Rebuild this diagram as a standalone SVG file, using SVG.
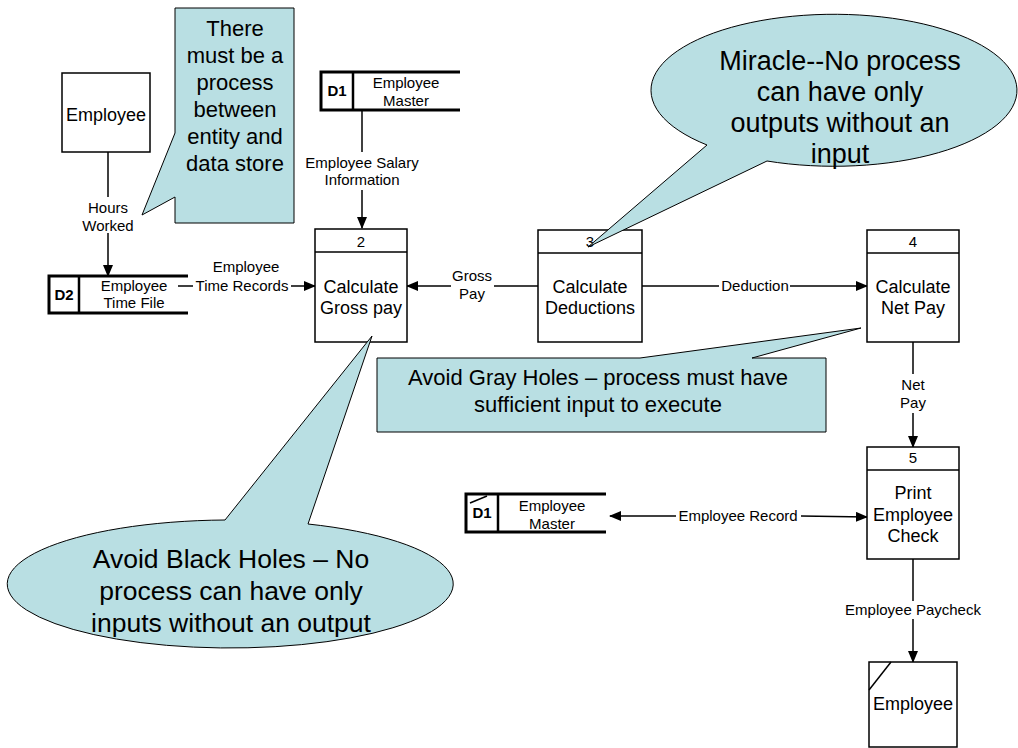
<svg xmlns="http://www.w3.org/2000/svg" width="1018" height="748" viewBox="0 0 1018 748">
<style>
text{font-family:"Liberation Sans",Arial,sans-serif;fill:#000;text-anchor:middle}
.lbl{font-size:15px}
.proc{font-size:18px}
.num{font-size:15px}
.box{fill:#fff;stroke:#000;stroke-width:1.5}
.store{fill:none;stroke:#000;stroke-width:3}
.div{fill:none;stroke:#000;stroke-width:2.5}
.flow{fill:none;stroke:#000;stroke-width:1.5}
.call{fill:#b9dfe3;stroke:#000;stroke-width:1}
.ct{font-size:22px}
.cb{font-size:27px}
.bold{font-weight:bold}
</style>
<defs>
<marker id="arr" markerUnits="userSpaceOnUse" markerWidth="12" markerHeight="10" refX="11" refY="5" orient="auto-start-reverse" viewBox="0 0 12 10">
<path d="M0,0 L12,5 L0,10 z" fill="#000"/>
</marker>
</defs>

<g id="connectors">
<line class="flow" x1="108" y1="152" x2="108" y2="197"/>
<line class="flow" x1="108" y1="233" x2="108" y2="276" marker-end="url(#arr)"/>
<text class="lbl" x="108" y="213">Hours</text>
<text class="lbl" x="108" y="231">Worked</text>

<line class="flow" x1="362" y1="110" x2="362" y2="152"/>
<line class="flow" x1="362" y1="190" x2="362" y2="228" marker-end="url(#arr)"/>
<text class="lbl" x="362" y="168">Employee Salary</text>
<text class="lbl" x="362" y="185">Information</text>

<line class="flow" x1="178" y1="286" x2="193" y2="286"/>
<line class="flow" x1="291" y1="286" x2="315" y2="286" marker-end="url(#arr)"/>
<text class="lbl" x="246" y="272">Employee</text>
<text class="lbl" x="242" y="291">Time Records</text>

<line class="flow" x1="538" y1="286" x2="494" y2="286"/>
<line class="flow" x1="451" y1="286" x2="407" y2="286" marker-end="url(#arr)"/>
<text class="lbl" x="472" y="281">Gross</text>
<text class="lbl" x="472" y="299">Pay</text>

<line class="flow" x1="642" y1="286" x2="719" y2="286"/>
<line class="flow" x1="790" y1="286" x2="867" y2="286" marker-end="url(#arr)"/>
<text class="lbl" x="755" y="291">Deduction</text>

<line class="flow" x1="913" y1="342" x2="913" y2="374"/>
<line class="flow" x1="913" y1="413" x2="913" y2="447" marker-end="url(#arr)"/>
<text class="lbl" x="913" y="390">Net</text>
<text class="lbl" x="913" y="408">Pay</text>

<line class="flow" x1="676" y1="516" x2="610" y2="516" marker-end="url(#arr)"/>
<line class="flow" x1="801" y1="516" x2="867" y2="517" marker-end="url(#arr)"/>
<text class="lbl" x="738" y="521">Employee Record</text>

<line class="flow" x1="913" y1="559" x2="913" y2="601"/>
<line class="flow" x1="913" y1="619" x2="913" y2="662" marker-end="url(#arr)"/>
<text class="lbl" x="913" y="615">Employee Paycheck</text>
</g>

<g id="entity-employee-top">
<rect class="box" x="62" y="73" width="88" height="79"/>
<text class="proc" x="106" y="121">Employee</text>
</g>

<g id="store-d2">
<path class="store" d="M188,276 H49 V313 H188"/>
<line class="div" x1="79" y1="276" x2="79" y2="313"/>
<text class="lbl bold" x="64" y="300">D2</text>
<text class="lbl" x="134" y="291">Employee</text>
<text class="lbl" x="134" y="308">Time File</text>
</g>

<g id="store-d1-top">
<path class="store" d="M460,72 H321 V110 H460"/>
<line class="div" x1="353" y1="72" x2="353" y2="110"/>
<text class="lbl bold" x="337" y="96">D1</text>
<text class="lbl" x="406" y="88">Employee</text>
<text class="lbl" x="406" y="106">Master</text>
</g>

<g id="process-2">
<rect class="box" x="315" y="229" width="92" height="113"/>
<line class="flow" x1="315" y1="252" x2="407" y2="252"/>
<text class="num" x="361" y="247">2</text>
<text class="proc" x="361" y="293">Calculate</text>
<text class="proc" x="361" y="314">Gross pay</text>
</g>

<g id="process-3">
<rect class="box" x="538" y="230" width="104" height="112"/>
<line class="flow" x1="538" y1="253" x2="642" y2="253"/>
<text class="num" x="590" y="247">3</text>
<text class="proc" x="590" y="293">Calculate</text>
<text class="proc" x="590" y="314">Deductions</text>
</g>

<g id="process-4">
<rect class="box" x="867" y="230" width="92" height="112"/>
<line class="flow" x1="867" y1="253" x2="959" y2="253"/>
<text class="num" x="913" y="247">4</text>
<text class="proc" x="913" y="293">Calculate</text>
<text class="proc" x="913" y="314">Net Pay</text>
</g>

<g id="process-5">
<rect class="box" x="867" y="447" width="92" height="112"/>
<line class="flow" x1="867" y1="470" x2="959" y2="470"/>
<text class="num" x="913" y="463">5</text>
<text class="proc" x="913" y="499">Print</text>
<text class="proc" x="913" y="521">Employee</text>
<text class="proc" x="913" y="542">Check</text>
</g>

<g id="store-d1-bottom">
<path class="store" d="M606,494 H466 V532 H606"/>
<line class="div" x1="498" y1="494" x2="498" y2="532"/>
<line class="flow" x1="470" y1="503" x2="487" y2="496" stroke-width="1"/>
<text class="lbl bold" x="482" y="518">D1</text>
<text class="lbl" x="552" y="511">Employee</text>
<text class="lbl" x="552" y="529">Master</text>
</g>

<g id="entity-employee-bottom">
<rect class="box" x="869" y="662" width="88" height="85"/>
<line class="flow" x1="869" y1="690" x2="891" y2="662" stroke-width="1"/>
<text class="proc" x="913" y="710">Employee</text>
</g>

<g id="callout-entity-store">
<path class="call" d="M175,8 H294 V223 H175 V197 L142,215 L175,133 Z"/>
<text class="ct" x="235" y="36">There</text>
<text class="ct" x="235" y="63">must be a</text>
<text class="ct" x="235" y="90">process</text>
<text class="ct" x="235" y="117">between</text>
<text class="ct" x="235" y="144">entity and</text>
<text class="ct" x="235" y="171">data store</text>
</g>

<g id="callout-miracle">
<path class="call" d="M707,145 A183,76 0 1,1 767,161 L588,247 Z"/>
<text class="cb" x="840" y="70">Miracle--No process</text>
<text class="cb" x="840" y="101">can have only</text>
<text class="cb" x="840" y="132">outputs without an</text>
<text class="cb" x="840" y="163">input</text>
</g>

<g id="callout-gray">
<path class="call" d="M377,358 H640 L861,328 L752,358 H826 V432 H377 Z"/>
<text class="ct" x="598" y="385">Avoid Gray Holes – process must have</text>
<text class="ct" x="598" y="412">sufficient input to execute</text>
</g>

<g id="callout-black">
<path class="call" d="M225,520 L372,336 L308,524 A223,64 0 1,1 225,520 Z"/>
<text class="cb" x="231" y="568" style="font-size:26.5px">Avoid Black Holes – No</text>
<text class="cb" x="231" y="600" style="font-size:26.5px">process can have only</text>
<text class="cb" x="231" y="632" style="font-size:26.5px">inputs without an output</text>
</g>
</svg>
